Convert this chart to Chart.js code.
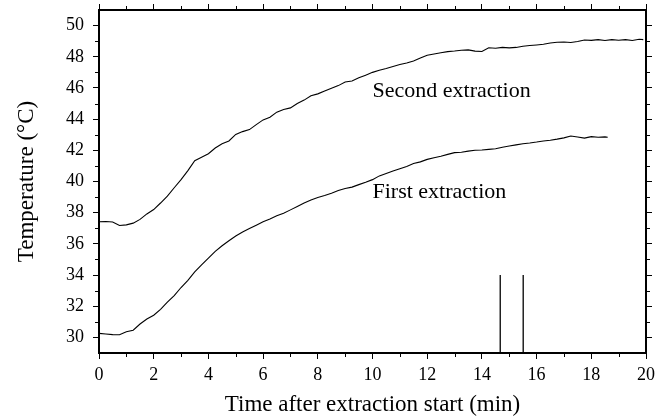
<!DOCTYPE html>
<html>
<head>
<meta charset="utf-8">
<title>Extraction temperature</title>
<script src="https://cdn.jsdelivr.net/npm/chart.js@4.4.1/dist/chart.umd.min.js"></script>
<style>
  html, body { margin: 0; padding: 0; background: #fff; }
  #wrap { width: 666px; height: 420px; }
</style>
</head>
<body>
<div id="wrap"><canvas id="tempChart"></canvas></div>
<script>
// temperature logs, minutes after extraction start
const timeSecond = [0, 0.25, 0.5, 0.75, 1, 1.25, 1.5, 1.75, 2, 2.25, 2.5, 2.75, 3, 3.25, 3.5, 3.75,
  4, 4.25, 4.5, 4.75, 5, 5.25, 5.5, 5.75, 6, 6.25, 6.5, 6.75, 7, 7.25, 7.5, 7.75,
  8, 8.25, 8.5, 8.75, 9, 9.25, 9.5, 9.75, 10, 10.25, 10.5, 10.75, 11, 11.25, 11.5, 11.75,
  12, 12.25, 12.5, 12.75, 13, 13.25, 13.5, 13.75, 14, 14.25, 14.5, 14.75, 15, 15.25, 15.5, 15.75,
  16, 16.25, 16.5, 16.75, 17, 17.25, 17.5, 17.75, 18, 18.25, 18.5, 18.75, 19, 19.25, 19.5, 19.75, 19.9];
const tempSecond = [37.42, 37.43, 37.40, 37.18, 37.22, 37.33, 37.57, 37.92, 38.20, 38.62, 39.06, 39.60, 40.12, 40.70, 41.33, 41.55,
  41.78, 42.15, 42.42, 42.60, 43.02, 43.20, 43.33, 43.65, 43.95, 44.12, 44.45, 44.62, 44.72, 45.00, 45.22, 45.50,
  45.62, 45.80, 45.98, 46.15, 46.38, 46.45, 46.65, 46.82, 47.00, 47.14, 47.25, 47.38, 47.50, 47.60, 47.73, 47.92,
  48.10, 48.18, 48.26, 48.33, 48.37, 48.42, 48.44, 48.36, 48.34, 48.58, 48.55, 48.60, 48.57, 48.60, 48.68, 48.72,
  48.76, 48.80, 48.88, 48.93, 48.95, 48.92, 48.98, 49.08, 49.05, 49.10, 49.04, 49.10, 49.06, 49.10, 49.04, 49.12, 49.10];

const timeFirst = [0, 0.25, 0.5, 0.75, 1, 1.25, 1.5, 1.75, 2, 2.25, 2.5, 2.75, 3, 3.25, 3.5, 3.75,
  4, 4.25, 4.5, 4.75, 5, 5.25, 5.5, 5.75, 6, 6.25, 6.5, 6.75, 7, 7.25, 7.5, 7.75,
  8, 8.25, 8.5, 8.75, 9, 9.25, 9.5, 9.75, 10, 10.25, 10.5, 10.75, 11, 11.25, 11.5, 11.75,
  12, 12.25, 12.5, 12.75, 13, 13.25, 13.5, 13.75, 14, 14.25, 14.5, 14.75, 15, 15.25, 15.5, 15.75,
  16, 16.25, 16.5, 16.75, 17, 17.25, 17.5, 17.75, 18, 18.25, 18.5, 18.6];
const tempFirst = [30.26, 30.22, 30.18, 30.17, 30.36, 30.46, 30.86, 31.18, 31.42, 31.80, 32.26, 32.68, 33.20, 33.66, 34.20, 34.65,
  35.08, 35.52, 35.88, 36.20, 36.50, 36.76, 36.98, 37.20, 37.42, 37.60, 37.80, 37.97, 38.18, 38.40, 38.62, 38.82,
  38.98, 39.10, 39.25, 39.42, 39.55, 39.64, 39.80, 39.95, 40.12, 40.36, 40.52, 40.68, 40.82, 40.96, 41.15, 41.26,
  41.42, 41.52, 41.62, 41.74, 41.85, 41.88, 41.95, 42.00, 42.02, 42.06, 42.10, 42.20, 42.28, 42.35, 42.42, 42.47,
  42.53, 42.60, 42.65, 42.72, 42.80, 42.92, 42.85, 42.78, 42.88, 42.84, 42.86, 42.84];

// sampling marks near the end of the first run
const markerTimes = [14.67, 15.51];
const markerTemps = [29, 34];

const xTicks = [0, 2, 4, 6, 8, 10, 12, 14, 16, 18, 20];
const yTicks = [30, 32, 34, 36, 38, 40, 42, 44, 46, 48, 50];

const curveNames = ['Second extraction', 'First extraction'];
const nameAnchors = [[10.0, 45.45], [10.0, 38.92]]; // data coords of text baseline start

const serif = '"Liberation Serif", "Times New Roman", serif';
Chart.defaults.font.family = serif;
Chart.defaults.color = '#000';

const toPoints = (xs, ys) => xs.map((t, i) => ({ x: t, y: ys[i] }));

const lineStyle = { borderColor: '#000', borderWidth: 1.1, pointRadius: 0, tension: 0, fill: false };

const datasets = [
  { ...lineStyle, data: toPoints(timeSecond, tempSecond) },
  { ...lineStyle, data: toPoints(timeFirst, tempFirst) },
  ...markerTimes.map(t => ({ ...lineStyle, borderWidth: 1.3, data: markerTemps.map(v => ({ x: t, y: v })) }))
];

// shorter unlabelled ticks at odd values, on all four sides
const minorTicks = {
  id: 'minorTicks',
  afterDraw(chart) {
    const ctx = chart.ctx;
    ctx.save();
    ctx.strokeStyle = '#000';
    ctx.lineWidth = 1;
    ctx.beginPath();
    for (const id of ['x', 'x2', 'y', 'y2']) {
      const s = chart.scales[id];
      for (let v = Math.floor(s.min) + 1; v < s.max; v++) {
        if (v % 2 === 0) continue;
        const p = Math.round(s.getPixelForValue(v)) + 0.5;
        if (id === 'x') { ctx.moveTo(p, s.top); ctx.lineTo(p, s.top + 4); }
        if (id === 'x2') { ctx.moveTo(p, s.bottom); ctx.lineTo(p, s.bottom - 4); }
        if (id === 'y') { ctx.moveTo(s.right, p); ctx.lineTo(s.right - 4, p); }
        if (id === 'y2') { ctx.moveTo(s.left, p); ctx.lineTo(s.left + 4, p); }
      }
    }
    ctx.stroke();
    ctx.restore();
  }
};

const curveText = {
  id: 'curveText',
  afterDatasetsDraw(chart) {
    const { ctx, scales: { x, y } } = chart;
    ctx.save();
    ctx.fillStyle = '#000';
    ctx.font = '22px ' + serif;
    ctx.textAlign = 'left';
    ctx.textBaseline = 'alphabetic';
    curveNames.forEach((name, i) => {
      const [ax, ay] = nameAnchors[i];
      ctx.fillText(name, x.getPixelForValue(ax), y.getPixelForValue(ay));
    });
    ctx.restore();
  }
};

const frameGrid = { drawOnChartArea: false, drawTicks: true, tickLength: 6, tickColor: '#000', tickWidth: 1 };
const frameBorder = { display: true, color: '#000', width: 2 };

// fixed axis boxes; end labels sit well inside the range so no extra padding
const fixWidth = w => s => { s.width = w; s.paddingTop = 0; s.paddingBottom = 0; };
const fixHeight = h => s => { s.height = h; };

new Chart(document.getElementById('tempChart'), {
  type: 'line',
  data: { datasets },
  plugins: [minorTicks, curveText],
  options: {
    responsive: true,
    maintainAspectRatio: false,
    devicePixelRatio: 1,
    animation: false,
    layout: { padding: 0 },
    plugins: { legend: { display: false }, tooltip: { enabled: false } },
    scales: {
      x: {
        type: 'linear', position: 'bottom', min: 0, max: 20,
        afterBuildTicks: s => { s.ticks = xTicks.map(v => ({ value: v })); },
        afterFit: fixHeight(67),
        grid: frameGrid, border: frameBorder,
        ticks: { font: { size: 18 }, padding: 5, maxRotation: 0, autoSkip: false },
        title: { display: true, text: 'Time after extraction start (min)', font: { size: 23 }, padding: { top: 0, bottom: 1 } }
      },
      x2: {
        type: 'linear', position: 'top', min: 0, max: 20,
        afterBuildTicks: s => { s.ticks = xTicks.map(v => ({ value: v })); },
        afterFit: fixHeight(10),
        grid: frameGrid, border: frameBorder,
        ticks: { display: false }
      },
      y: {
        type: 'linear', position: 'left', min: 29, max: 51,
        afterBuildTicks: s => { s.ticks = yTicks.map(v => ({ value: v })); },
        afterFit: fixWidth(99),
        grid: frameGrid, border: frameBorder,
        ticks: { font: { size: 18 }, padding: 9 },
        title: { display: true, text: 'Temperature (°C)', font: { size: 23 }, padding: { top: 13, bottom: 0 } }
      },
      y2: {
        type: 'linear', position: 'right', min: 29, max: 51,
        afterBuildTicks: s => { s.ticks = yTicks.map(v => ({ value: v })); },
        afterFit: fixWidth(20),
        grid: frameGrid, border: frameBorder,
        ticks: { display: false }
      }
    }
  }
});
</script>
</body>
</html>
